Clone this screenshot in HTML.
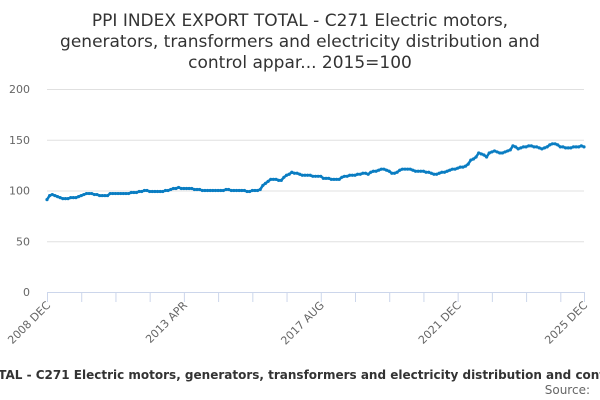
<!DOCTYPE html>
<html><head><meta charset="utf-8"><style>
body{margin:0;background:#fff;width:600px;height:400px;overflow:hidden}
svg{display:block;font-family:"DejaVu Sans","Liberation Sans",sans-serif}
</style></head><body>
<svg id="c" width="600" height="400">
<g font-size="17" fill="#333" text-anchor="middle">
<text x="300" y="26">PPI INDEX EXPORT TOTAL - C271 Electric motors,</text>
<text x="300" y="47">generators, transformers and electricity distribution and</text>
<text x="300" y="68">control appar... 2015=100</text>
</g>
<g id="grid"></g><g id="xaxis"></g><g id="series"></g>
<text x="-150" y="379" font-size="12" font-weight="bold" fill="#333">PPI INDEX EXPORT TOTAL - C271 Electric motors, generators, transformers and electricity distribution and control apparatus</text>
<text x="590" y="394" font-size="12" fill="#666" text-anchor="end">Source:</text>
</svg>
<script>
const yTicks=[0,50,100,150,200];
const xLabels=["2008 DEC","2013 APR","2017 AUG","2021 DEC","2025 DEC"];
const xLabelIdx=[0,52,104,156,204];
const values=[91,95,96,95,94,93,
92,92,92,93,93,93,
94,95,96,97,97,
97,96,96,95,95,95,95,
97,97,97,97,97,97,97,97,98,98,
98,99,99,100,100,99,99,
99,99,99,99,100,100,101,102,102,
103,102,102,102,102,102,
101,101,101,100,100,100,
100,100,100,100,100,100,101,101,100,
100,100,100,100,100,99,99,100,100,100,
101,105,107,109,111,
111,111,110,110,113,
115,116,118,117,117,116,
115,115,115,115,114,114,114,114,
112,112,112,111,111,111,111,113,114,114,115,115,
115,116,116,117,117,116,118,119,119,120,121,121,120,119,117,117,118,120,121,121,121,121,
120,119,119,119,119,118,118,117,116,116,117,118,118,119,120,121,121,122,
123,123,124,126,130,131,133,137,136,135,133,137,138,139,138,137,137,138,139,140,
144,143,141,142,143,143,144,144,143,143,142,141,142,143,145,146,146,145,143,143,142,
142,142,143,143,143,144,143];
const NS="http://www.w3.org/2000/svg";
const x0=47,x1=584,yb=292,yt=89,vmax=200;
const X=i=>x0+i*(x1-x0)/(values.length-1);
const Y=v=>yb-v*(yb-yt)/vmax;
function mk(t,a,p){const e=document.createElementNS(NS,t);for(const k in a)e.setAttribute(k,a[k]);p.appendChild(e);return e;}
const grid=document.getElementById('grid');
yTicks.forEach(v=>{
 const l=mk('line',{x1:x0,x2:x1,y1:Y(v)+0.5,y2:Y(v)+0.5,stroke:v==0?'#ccd6eb':'#e0e0e0'},grid);
 
 
 const t=mk('text',{x:30,y:Y(v)+4,'font-size':11,fill:'#666','text-anchor':'end'},grid);
 t.textContent=v;
 
 
});
const xa=document.getElementById('xaxis');
for(let i=0;i<values.length;i+=13){
 const tk=mk('line',{x1:X(i)+0.5,x2:X(i)+0.5,y1:yb,y2:yb+10,stroke:'#ccd6eb'},xa);
 
 
}
const te=mk('line',{x1:x1+0.5,x2:x1+0.5,y1:yb,y2:yb+10,stroke:'#ccd6eb'},xa);


xLabels.forEach((s,k)=>{
 const x=X(xLabelIdx[k])+4,y=yb+14;
 const t=mk('text',{x:x,y:y,'font-size':11,fill:'#666','text-anchor':'end',transform:`rotate(-45 ${x} ${y})`},xa);
 t.textContent=s;
 
 
});
const sg=document.getElementById('series');
const pl=mk('polyline',{points:values.map((v,i)=>X(i)+','+Y(v)).join(' '),fill:'none',stroke:'#0a7dc2','stroke-width':2.5,'stroke-linejoin':'round'},sg);


values.forEach((v,i)=>{
 const c=mk('circle',{cx:X(i),cy:Y(v),r:1.6,fill:'#0a7dc2'},sg);
 
 
});
</script>
</body></html>
